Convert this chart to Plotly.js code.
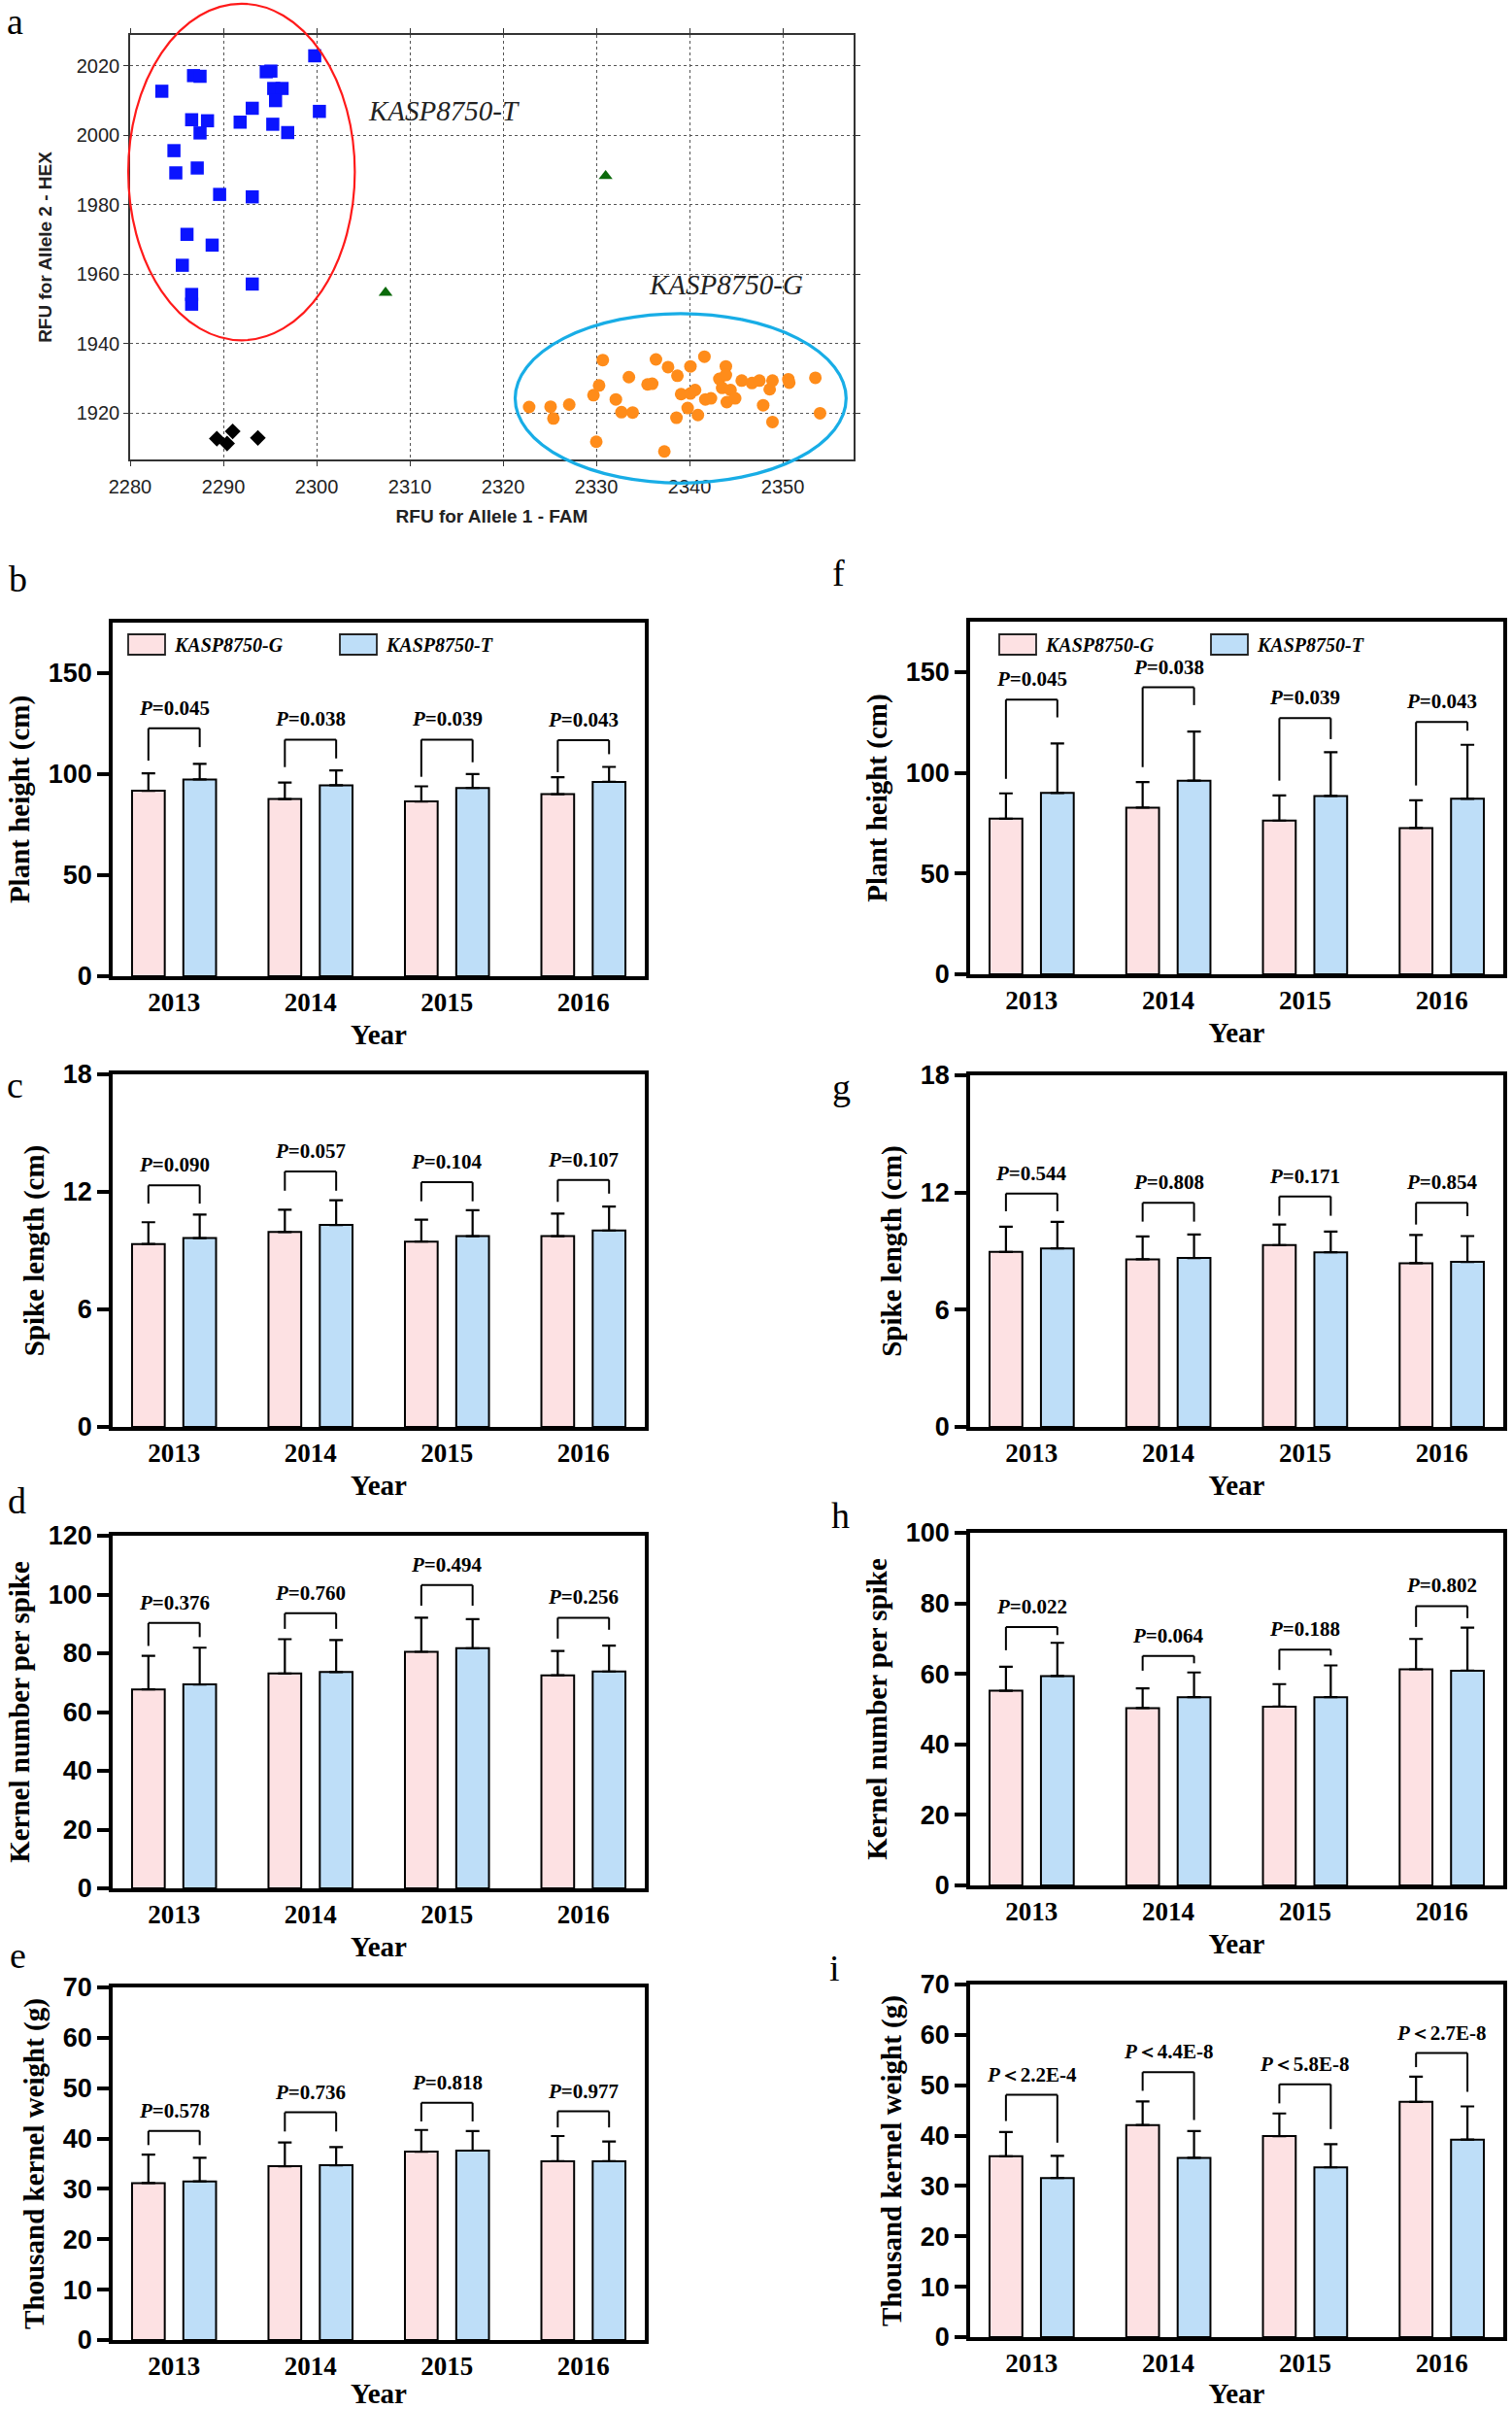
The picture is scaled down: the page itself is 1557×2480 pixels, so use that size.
<!DOCTYPE html>
<html>
<head>
<meta charset="utf-8">
<script src="https://cdn.plot.ly/plotly-3.0.1.min.js"></script>
<style>html,body{margin:0;padding:0;background:#fff;}</style>
</head>
<body>
<div id="chart" style="width:1557px;height:2480px;"></div>
<script>
// ---------------- DATA ----------------
const years = ['2013', '2014', '2015', '2016'];
const genotypes = ['KASP8750-G', 'KASP8750-T'];

// Panel a: KASP genotyping scatter (RFU FAM vs HEX)
const famT = [2283.4, 2286.8, 2287.5, 2295.1, 2294.6, 2295.4, 2296.3, 2299.8, 2300.3, 2293.1, 2286.6, 2288.3, 2291.8, 2295.3, 2295.6, 2287.5, 2296.9, 2284.7, 2284.9, 2287.2, 2289.6, 2293.1, 2286.1, 2288.8, 2285.6, 2293.1, 2286.6, 2286.6];
const hexT = [2012.7, 2017.2, 2017.0, 2018.5, 2018.3, 2013.5, 2013.5, 2022.9, 2006.9, 2007.8, 2004.5, 2004.2, 2003.8, 2003.2, 2010.0, 2000.7, 2000.8, 1995.6, 1989.2, 1990.6, 1983.0, 1982.3, 1971.5, 1968.4, 1962.6, 1957.2, 1954.2, 1951.4];
const famG = [2322.8, 2325.1, 2325.4, 2327.1, 2329.7, 2330.3, 2330.7, 2330.0, 2332.1, 2332.7, 2333.9, 2333.5, 2335.5, 2336.0, 2336.4, 2337.7, 2337.3, 2338.7, 2338.6, 2339.1, 2339.8, 2340.1, 2340.1, 2340.6, 2340.9, 2341.6, 2341.7, 2342.3, 2343.2, 2343.5, 2343.9, 2343.9, 2344.0, 2344.4, 2344.9, 2345.6, 2346.7, 2347.5, 2347.9, 2348.6, 2348.9, 2348.9, 2350.6, 2350.7, 2353.5, 2354.0];
const hexG = [1921.8, 1921.9, 1918.5, 1922.5, 1925.2, 1928.0, 1935.3, 1911.8, 1924.0, 1920.3, 1920.2, 1930.4, 1928.3, 1928.5, 1935.5, 1933.3, 1909.0, 1930.8, 1918.7, 1925.5, 1921.5, 1933.5, 1925.7, 1926.7, 1919.5, 1936.3, 1924.0, 1924.3, 1929.9, 1927.3, 1933.5, 1931.0, 1923.2, 1926.7, 1924.3, 1929.4, 1928.7, 1929.4, 1922.3, 1926.9, 1929.4, 1917.5, 1929.8, 1928.8, 1930.2, 1920.0];
const famHet = [2307.4, 2331.0];
const hexHet = [1954.7, 1988.3];
const famNTC = [2289.3, 2290.4, 2291.0, 2293.7];
const hexNTC = [1912.7, 1911.3, 1914.8, 1912.9];

// Panel b: plant height (cm)
const heightB_G = [91.8, 87.7, 86.5, 90.1];
const heightB_Gerr = [8.6, 8.2, 7.5, 8.4];
const heightB_T = [97.4, 94.5, 93.2, 96.2];
const heightB_Terr = [7.7, 7.4, 6.9, 7.4];
const heightB_P = ['=0.045', '=0.038', '=0.039', '=0.043'];
// Panel c: spike length (cm)
const spikeC_G = [9.34, 9.95, 9.46, 9.74];
const spikeC_Gerr = [1.11, 1.14, 1.12, 1.15];
const spikeC_T = [9.64, 10.31, 9.74, 10.03];
const spikeC_Terr = [1.20, 1.26, 1.32, 1.22];
const spikeC_P = ['=0.090', '=0.057', '=0.104', '=0.107'];
// Panel d: kernel number per spike
const kernelD_G = [67.7, 73.1, 80.5, 72.5];
const kernelD_Gerr = [11.4, 11.7, 11.6, 8.3];
const kernelD_T = [69.4, 73.6, 81.7, 73.8];
const kernelD_Terr = [12.5, 10.9, 9.9, 8.8];
const kernelD_P = ['=0.376', '=0.760', '=0.494', '=0.256'];
// Panel e: thousand kernel weight (g)
const tkwE_G = [31.15, 34.5, 37.4, 35.5];
const tkwE_Gerr = [5.65, 4.7, 4.3, 5.0];
const tkwE_T = [31.5, 34.7, 37.6, 35.5];
const tkwE_Terr = [4.7, 3.6, 3.9, 3.9];
const tkwE_P = ['=0.578', '=0.736', '=0.818', '=0.977'];
// Panel f: plant height (cm)
const heightF_G = [77.2, 82.7, 76.3, 72.6];
const heightF_Gerr = [12.6, 12.7, 12.5, 13.8];
const heightF_T = [90.0, 96.1, 88.5, 87.1];
const heightF_Terr = [24.6, 24.4, 21.7, 26.8];
const heightF_P = ['=0.045', '=0.038', '=0.039', '=0.043'];
// Panel g: spike length (cm)
const spikeG_G = [8.96, 8.58, 9.31, 8.38];
const spikeG_Gerr = [1.29, 1.17, 1.05, 1.45];
const spikeG_T = [9.14, 8.65, 8.94, 8.45];
const spikeG_Terr = [1.36, 1.20, 1.06, 1.32];
const spikeG_P = ['=0.544', '=0.808', '=0.171', '=0.854'];
// Panel h: kernel number per spike
const kernelH_G = [55.2, 50.3, 50.7, 61.3];
const kernelH_Gerr = [6.8, 5.6, 6.4, 8.6];
const kernelH_T = [59.4, 53.4, 53.4, 60.9];
const kernelH_Terr = [9.4, 7.0, 9.0, 12.2];
const kernelH_P = ['=0.022', '=0.064', '=0.188', '=0.802'];
// Panel i: thousand kernel weight (g)
const tkwI_G = [35.9, 42.1, 39.9, 46.7];
const tkwI_Gerr = [4.8, 4.7, 4.5, 5.0];
const tkwI_T = [31.6, 35.6, 33.7, 39.2];
const tkwI_Terr = [4.4, 5.3, 4.6, 6.6];
const tkwI_P = ['＜2.2E-4', '＜4.4E-8', '＜5.8E-8', '＜2.7E-8'];

// Significance bracket levels (annotation geometry): [bar line, left leg end, right leg end]
const bracketB = [[122.7,106.7,113.4],[117.1,103.5,107.8],[117.1,98.7,105.9],[116.8,101.0,109.9]];
const bracketC = [[12.33,11.40,11.40],[13.04,12.06,12.06],[12.49,11.52,11.52],[12.61,11.49,11.91]];
const bracketD = [[90.3,82.5,85.5],[93.6,88.3,88.3],[103.2,96.2,96.2],[92.1,85.0,88.0]];
const bracketE = [[41.5,38.7,38.7],[45.2,41.4,41.4],[47.1,43.4,43.4],[45.4,42.2,42.2]];
const bracketF = [[136.3,97.0,127.5],[142.4,102.8,133.6],[127.1,96.1,116.7],[125.2,93.7,120.9]];
const bracketG = [[11.95,11.04,11.04],[11.47,10.51,10.51],[11.80,10.81,10.81],[11.47,10.36,10.79]];
const bracketH = [[73.3,66.7,71.0],[65.1,60.9,63.0],[66.9,61.1,65.2],[79.2,73.3,75.8]];
const bracketI = [[48.1,42.9,38.6],[52.6,48.9,43.1],[50.2,46.4,41.3],[56.4,53.6,48.7]];

// ---------------- LAYOUT HELPERS ----------------
const W = 1557, H = 2480;
const xd = (l, r) => [l / W, r / W];
const yd = (t, b) => [1 - b / H, 1 - t / H];
const SERIF = 'Liberation Serif, Times New Roman, serif';
const SANS = 'Liberation Sans, Arial, sans-serif';
const PINK = '#fde1e3', BLUE = '#bedef8';

const data = [];
const shapes = [];
const annotations = [];
const layout = {
  width: W, height: H,
  margin: {l: 0, r: 0, t: 0, b: 0},
  paper_bgcolor: '#fff', plot_bgcolor: '#fff',
  showlegend: false,
  barmode: 'group', bargap: 0.248, bargroupgap: 0.362,
  shapes: shapes, annotations: annotations
};

// ---------------- PANEL a ----------------
const aRangeX = [2280, 2357.6], aRangeY = [1906.7, 2028.9];
const aDomX = xd(134, 879), aDomY = yd(36, 473);
layout.xaxis = {
  domain: aDomX, anchor: 'y', range: aRangeX, tick0: 2280, dtick: 10,
  showgrid: true, gridcolor: '#555', griddash: 'dot', gridwidth: 1.4,
  zeroline: false, showline: true, mirror: 'ticks', linecolor: '#333', linewidth: 1.6,
  ticks: 'outside', ticklen: 5, tickcolor: '#333', ticklabelstandoff: 4,
  tickfont: {family: SANS, size: 20, color: '#222'},
  title: {text: '<b>RFU for Allele 1 - FAM</b>', font: {family: SANS, size: 19, color: '#222'}, standoff: 14}
};
layout.yaxis = {
  domain: aDomY, anchor: 'x', range: aRangeY, tick0: 1920, dtick: 20,
  showgrid: true, gridcolor: '#555', griddash: 'dot', gridwidth: 1.4,
  zeroline: false, showline: true, mirror: 'ticks', linecolor: '#333', linewidth: 1.6,
  ticks: 'outside', ticklen: 5, tickcolor: '#333',
  tickfont: {family: SANS, size: 20, color: '#222'},
  title: {text: '<b>RFU for Allele 2 - HEX</b>', font: {family: SANS, size: 19, color: '#222'}, standoff: 20}
};
data.push({type: 'scatter', mode: 'markers', x: famT, y: hexT, xaxis: 'x', yaxis: 'y', name: 'KASP8750-T',
  marker: {symbol: 'square', size: 13.5, color: '#0a14ff'}});
data.push({type: 'scatter', mode: 'markers', x: famG, y: hexG, xaxis: 'x', yaxis: 'y', name: 'KASP8750-G',
  marker: {symbol: 'circle', size: 13, color: '#ff8c1a'}});
data.push({type: 'scatter', mode: 'markers', x: famHet, y: hexHet, xaxis: 'x', yaxis: 'y', name: 'Heterozygous',
  marker: {symbol: 'triangle-up', size: 12.5, color: '#0b6a0b'}});
data.push({type: 'scatter', mode: 'markers', x: famNTC, y: hexNTC, xaxis: 'x', yaxis: 'y', name: 'NTC',
  marker: {symbol: 'diamond', size: 12.5, color: '#000'}});

const pX = v => aDomX[0] + (v - aRangeX[0]) / (aRangeX[1] - aRangeX[0]) * (aDomX[1] - aDomX[0]);
const pY = v => aDomY[0] + (v - aRangeY[0]) / (aRangeY[1] - aRangeY[0]) * (aDomY[1] - aDomY[0]);
shapes.push({type: 'circle', xref: 'paper', yref: 'paper', x0: pX(2279.8), x1: pX(2304.1), y0: pY(1941), y1: pY(2037.9),
  line: {color: '#ff1a1a', width: 2.2}, layer: 'above'});
shapes.push({type: 'circle', xref: 'paper', yref: 'paper', x0: pX(2321.3), x1: pX(2356.8), y0: pY(1899.9), y1: pY(1948.7),
  line: {color: '#18ade6', width: 3.2}, layer: 'above'});
annotations.push({xref: 'x', yref: 'y', x: 2305.3, y: 2007, xanchor: 'left', yanchor: 'middle', showarrow: false,
  text: '<i>KASP8750-T</i>', font: {family: SERIF, size: 29, color: '#222'}});
annotations.push({xref: 'x', yref: 'y', x: 2335.4, y: 1956.9, xanchor: 'left', yanchor: 'middle', showarrow: false,
  text: '<i>KASP8750-G</i>', font: {family: SERIF, size: 29, color: '#222'}});

// ---------------- BAR PANELS ----------------
const LEFT = xd(116, 664), RIGHT = xd(999, 1548);
const OFF = 0.188;
function barPanel(n, dom, yDom, ymax, dtick, ytitle, G, Gerr, T, Terr, P, br) {
  const xa = 'x' + n, ya = 'y' + n;
  const zeros = G.map(() => 0);
  data.push({type: 'bar', x: years, y: G, name: genotypes[0], xaxis: xa, yaxis: ya,
    marker: {color: PINK, line: {color: '#000', width: 2}},
    error_y: {type: 'data', symmetric: false, array: Gerr, arrayminus: zeros, color: '#000', thickness: 2.2, width: 7}});
  data.push({type: 'bar', x: years, y: T, name: genotypes[1], xaxis: xa, yaxis: ya,
    marker: {color: BLUE, line: {color: '#000', width: 2}},
    error_y: {type: 'data', symmetric: false, array: Terr, arrayminus: zeros, color: '#000', thickness: 2.2, width: 7}});
  layout['xaxis' + n] = {
    domain: dom, anchor: ya, type: 'category', range: [-0.45, 3.45],
    showline: true, mirror: true, linecolor: '#000', linewidth: 3.5,
    ticks: '', showgrid: false, zeroline: false, ticklabelstandoff: 0,
    tickfont: {family: SERIF, size: 27, color: '#000', weight: 'bold'},
    title: {text: '<b>Year</b>', font: {family: SERIF, size: 29, color: '#000'}, standoff: 10}
  };
  layout['yaxis' + n] = {
    domain: yDom, anchor: xa, range: [0, ymax], tick0: 0, dtick: dtick,
    showline: true, mirror: true, linecolor: '#000', linewidth: 3.5,
    ticks: 'outside', ticklen: 12, tickwidth: 3.5, tickcolor: '#000',
    showgrid: false, zeroline: false,
    tickfont: {family: SANS, size: 27, color: '#000', weight: 'bold'},
    title: {text: '<b>' + ytitle + '</b>', font: {family: SERIF, size: 29, color: '#000'}, standoff: 12}
  };
  years.forEach((yr, i) => {
    const [top, lb, rb] = br[i];
    const ln = {color: '#000', width: 2};
    shapes.push({type: 'line', xref: xa, yref: ya, x0: i - OFF, x1: i + OFF, y0: top, y1: top, line: ln});
    shapes.push({type: 'line', xref: xa, yref: ya, x0: i - OFF, x1: i - OFF, y0: top, y1: lb, line: ln});
    shapes.push({type: 'line', xref: xa, yref: ya, x0: i + OFF, x1: i + OFF, y0: top, y1: rb, line: ln});
    annotations.push({xref: xa, yref: ya, x: i, y: top, yshift: 21, xanchor: 'center', yanchor: 'middle',
      showarrow: false, text: '<b><i>P</i>' + P[i] + '</b>', font: {family: SERIF, size: 21, color: '#000'}});
  });
}

barPanel(2, LEFT, yd(641, 1005), 175, 50, 'Plant height (cm)', heightB_G, heightB_Gerr, heightB_T, heightB_Terr, heightB_P, bracketB);
barPanel(3, LEFT, yd(1106, 1469), 18, 6, 'Spike length (cm)', spikeC_G, spikeC_Gerr, spikeC_T, spikeC_Terr, spikeC_P, bracketC);
barPanel(4, LEFT, yd(1581, 1944), 120, 20, 'Kernel number per spike', kernelD_G, kernelD_Gerr, kernelD_T, kernelD_Terr, kernelD_P, bracketD);
barPanel(5, LEFT, yd(2046, 2409), 70, 10, 'Thousand kernel weight (g)', tkwE_G, tkwE_Gerr, tkwE_T, tkwE_Terr, tkwE_P, bracketE);
barPanel(6, RIGHT, yd(640, 1003), 175, 50, 'Plant height (cm)', heightF_G, heightF_Gerr, heightF_T, heightF_Terr, heightF_P, bracketF);
barPanel(7, RIGHT, yd(1107, 1469), 18, 6, 'Spike length (cm)', spikeG_G, spikeG_Gerr, spikeG_T, spikeG_Terr, spikeG_P, bracketG);
barPanel(8, RIGHT, yd(1578, 1941), 100, 20, 'Kernel number per spike', kernelH_G, kernelH_Gerr, kernelH_T, kernelH_Terr, kernelH_P, bracketH);
barPanel(9, RIGHT, yd(2043, 2406), 70, 10, 'Thousand kernel weight (g)', tkwI_G, tkwI_Gerr, tkwI_T, tkwI_Terr, tkwI_P, bracketI);

// Legends in panels b and f (drawn as boxes + labels)
function legendBox(x0px, ytopPx) {
  const boxW = 38, boxH = 21, gap = 218;
  [PINK, BLUE].forEach((c, k) => {
    const l = x0px + k * gap;
    shapes.push({type: 'rect', xref: 'paper', yref: 'paper', x0: l / W, x1: (l + boxW) / W,
      y0: 1 - (ytopPx + boxH) / H, y1: 1 - ytopPx / H, fillcolor: c, line: {color: '#222', width: 1.8}});
    annotations.push({xref: 'paper', yref: 'paper', x: (l + boxW + 7) / W, y: 1 - (ytopPx + boxH / 2) / H,
      xanchor: 'left', yanchor: 'middle', showarrow: false, text: '<b><i>' + genotypes[k] + '</i></b>',
      font: {family: SERIF, size: 20, color: '#000'}});
  });
}
legendBox(132, 653);
legendBox(1029, 653);

// Panel letters
const letters = [['a', 16, 22], ['b', 18, 596], ['c', 16, 1117], ['d', 17, 1545], ['e', 18, 2013],
  ['f', 863, 590], ['g', 866, 1119], ['h', 865, 1560], ['i', 860, 2026]];
letters.forEach(([t, x, y]) => {
  annotations.push({xref: 'paper', yref: 'paper', x: x / W, y: 1 - y / H, xanchor: 'center', yanchor: 'middle',
    showarrow: false, text: t, font: {family: SERIF, size: 38, color: '#000'}});
});

Plotly.newPlot('chart', data, layout, {displayModeBar: false, responsive: false});
</script>
</body>
</html>
